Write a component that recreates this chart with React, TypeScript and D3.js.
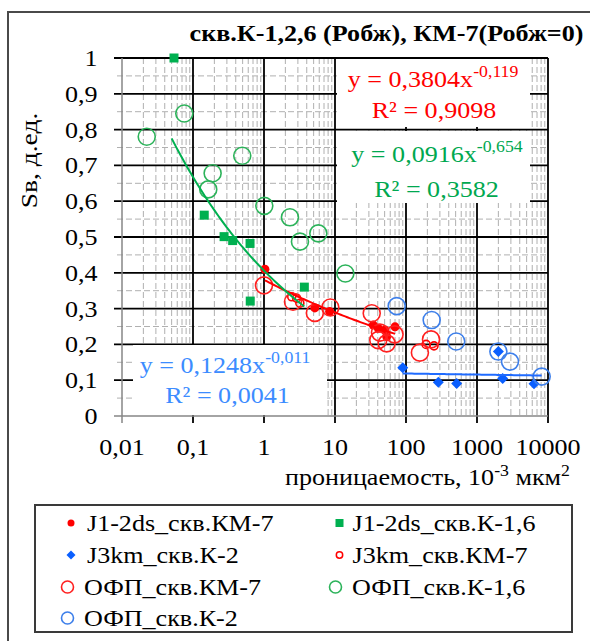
import React from 'react';
import * as d3 from 'd3';

// ---------- data ----------
const TITLE = 'скв.К-1,2,6 (Робж), КМ-7(Робж=0)';
const Y_TITLE = 'Sв, д.ед.';
const X_TITLE_MAIN = 'проницаемость, 10';
const X_TITLE_EXP = '-3';
const X_TITLE_UNIT = ' мкм';
const X_TITLE_EXP2 = '2';

const yTicks = [0, 0.1, 0.2, 0.3, 0.4, 0.5, 0.6, 0.7, 0.8, 0.9, 1];
const yTickLabels = ['0', '0,1', '0,2', '0,3', '0,4', '0,5', '0,6', '0,7', '0,8', '0,9', '1'];
const xTicks = [0.01, 0.1, 1, 10, 100, 1000, 10000];
const xTickLabels = ['0,01', '0,1', '1', '10', '100', '1000', '10000'];

// J1-2ds_скв.КМ-7 (red filled dots)
const j12dsKM7: [number, number][] = [
  [1.03, 0.41], [5.2, 0.302], [8.4, 0.292], [34.6, 0.254], [40.7, 0.245],
  [50.6, 0.24], [70, 0.249], [53.4, 0.222],
];
// J1-2ds_скв.К-1,6 (green squares)
const j12dsK16: [number, number][] = [
  [0.054, 1.0], [0.144, 0.561], [0.274, 0.501], [0.362, 0.49], [0.636, 0.482],
  [0.64, 0.321], [3.7, 0.36],
];
// J3km_скв.К-2 (blue diamonds)
const j3kmK2: [number, number][] = [
  [90, 0.135], [285, 0.094], [518, 0.091], [2000, 0.18], [2300, 0.105], [6350, 0.09],
];
// J3km_скв.КМ-7 (small red open circles)
const j3kmKM7: [number, number][] = [
  [2.46, 0.333], [2.88, 0.329], [3.2, 0.315], [192, 0.2], [248, 0.196],
];
// ОФП_скв.КМ-7 (big red open circles)
const ofpKM7: [number, number][] = [
  [1.0, 0.365], [2.56, 0.319], [5.2, 0.288], [8.6, 0.303], [32.9, 0.287],
  [43, 0.233], [40.7, 0.212], [53.4, 0.203], [69, 0.228], [157, 0.177], [225, 0.214],
];
// ОФП_скв.К-1,6 (big green open circles)
const ofpK16: [number, number][] = [
  [0.0223, 0.78], [0.0754, 0.845], [0.164, 0.633], [0.189, 0.678], [0.494, 0.727],
  [1.01, 0.587], [2.32, 0.555], [3.21, 0.487], [5.82, 0.51], [14, 0.398],
];
// ОФП_скв.К-2 (big blue open circles)
const ofpK2: [number, number][] = [
  [74, 0.307], [230, 0.268], [510, 0.208], [2000, 0.18], [2917, 0.152], [8150, 0.11],
];

// power trendlines y = a * x^b
const trendColors = ['#FF0000', '#00B050', '#1F6BFF'];
const trendA = [0.3804, 0.406, 0.1248];
const trendB = [-0.119, -0.216, -0.011];
const trendXmin = [1.03, 0.05, 90];
const trendXmax = [70, 3.7, 8150];

const eqMain = ['y = 0,3804x', 'y = 0,0916x', 'y = 0,1248x'];
const eqExp = ['-0,119', '-0,654', '-0,011'];
const eqR2 = ['R² = 0,9098', 'R² = 0,3582', 'R² = 0,0041'];
const eqColors = ['#FF0000', '#00A850', '#3C8CFF'];

const legendLabels = [
  'J1-2ds_скв.КМ-7', 'J1-2ds_скв.К-1,6',
  'J3km_скв.К-2', 'J3km_скв.КМ-7',
  'ОФП_скв.КМ-7', 'ОФП_скв.К-1,6',
  'ОФП_скв.К-2',
];

// ---------- styling ----------
const FONT = "'Liberation Serif', 'DejaVu Serif', serif";
const RED = '#FF0000';
const GREEN = '#00B050';
const BLUE = '#0A5FFF';
const RED_O = '#FF2020';
const GREEN_O = '#2CB35A';
const BLUE_O = '#3D7FEA';
const FS = 23.5;
const SX = 1.11;

const PL = 122, PR = 548, PT = 58, PB = 416;

const xScale = d3.scaleLog().domain([0.01, 10000]).range([PL, PR]);
const yScale = d3.scaleLinear().domain([0, 1]).range([PB, PT]);

type Kind = 'dot' | 'square' | 'diamond' | 'small' | 'big';

function Marker({ kind, cx, cy, color }: { kind: Kind; cx: number; cy: number; color: string }) {
  if (kind === 'dot') return <circle cx={cx} cy={cy} r={4.5} fill={color} />;
  if (kind === 'square') return <rect x={cx - 4.5} y={cy - 4.5} width={9} height={9} fill={color} />;
  if (kind === 'diamond') {
    const s = 5.5;
    return <path d={`M${cx},${cy - s}L${cx + s},${cy}L${cx},${cy + s}L${cx - s},${cy}Z`} fill={color} />;
  }
  if (kind === 'small') return <circle cx={cx} cy={cy} r={4} fill="none" stroke={color} strokeWidth={1.6} />;
  return <circle cx={cx} cy={cy} r={8.5} fill="none" stroke={color} strokeWidth={1.6} />;
}

function Txt({ x, y, anchor = 'start', size = FS, sx = SX, fill = '#000', weight, rotate, children }:
  { x: number; y: number; anchor?: string; size?: number; sx?: number; fill?: string; weight?: string; rotate?: number; children: React.ReactNode }) {
  const tr = `translate(${x},${y})${rotate ? ` rotate(${rotate})` : ''} scale(${sx},1)`;
  return (
    <text transform={tr} x={0} y={0} textAnchor={anchor as any} fontSize={size} fill={fill}
      fontWeight={weight} style={{ fontFamily: FONT }}>
      {children}
    </text>
  );
}

const seriesList: { data: [number, number][]; kind: Kind; color: string }[] = [
  { data: j12dsKM7, kind: 'dot', color: RED },
  { data: j12dsK16, kind: 'square', color: GREEN },
  { data: j3kmK2, kind: 'diamond', color: BLUE },
  { data: j3kmKM7, kind: 'small', color: RED },
  { data: ofpKM7, kind: 'big', color: RED_O },
  { data: ofpK16, kind: 'big', color: GREEN_O },
  { data: ofpK2, kind: 'big', color: BLUE_O },
];

export default function App() {
  const minorX: number[] = [];
  for (let d = 0.01; d < 10000; d *= 10) {
    for (let k = 2; k <= 9; k++) minorX.push(+(k * d).toPrecision(3));
  }
  const minorY = d3.range(0.05, 1, 0.1);

  const line = d3.line<[number, number]>().x(d => xScale(d[0])).y(d => yScale(d[1]));

  const trends = trendA.map((a, i) => {
    const n = 60;
    const lo = Math.log(trendXmin[i]);
    const hi = Math.log(trendXmax[i]);
    const pts: [number, number][] = d3.range(n + 1).map(j => {
      const x = Math.exp(lo + (hi - lo) * j / n);
      return [x, a * Math.pow(x, trendB[i])];
    });
    return line(pts) as string;
  });

  const legendRows = [523, 555, 587, 618];
  const legendKinds: { kind: Kind; color: string }[] = [
    { kind: 'dot', color: RED }, { kind: 'square', color: GREEN },
    { kind: 'diamond', color: BLUE }, { kind: 'small', color: RED },
    { kind: 'big', color: RED_O }, { kind: 'big', color: GREEN_O },
    { kind: 'big', color: BLUE_O },
  ];

  const eqBoxes = [
    { x: 337, y: 59, w: 193, h: 68, cx1: 433, b1: 86.5, cx2: 434, b2: 117.5 },
    { x: 337, y: 131, w: 193, h: 72, cx1: 437, b1: 162, cx2: 436.5, b2: 196.5 },
    { x: 133, y: 345, w: 194, h: 70, cx1: 225, b1: 373, cx2: 227.5, b2: 403 },
  ];

  return (
    <svg width={590} height={641} style={{ position: 'absolute', left: 0, top: 0, background: '#fff' }}>
      <rect x={0} y={0} width={590} height={641} fill="#fff" />
      <rect x={8} y={12} width={600} height={660} fill="none" stroke="#4a4a4a" strokeWidth={2} />

      <Txt x={386.5} y={41} anchor="middle" weight="bold" size={22.5} sx={1.16}>{TITLE}</Txt>

      {minorX.map((v, i) => (
        <line key={'mx' + i} x1={xScale(v)} x2={xScale(v)} y1={PT} y2={PB}
          stroke="#b0b0b0" strokeWidth={1} strokeDasharray="6,3" />
      ))}
      {minorY.map((v, i) => (
        <line key={'my' + i} x1={PL - 5} x2={PR} y1={yScale(v)} y2={yScale(v)}
          stroke="#b0b0b0" strokeWidth={1} strokeDasharray="6,3" />
      ))}
      {xTicks.slice(1).map((v, i) => (
        <line key={'Mx' + i} x1={xScale(v)} x2={xScale(v)} y1={PT} y2={PB + 7}
          stroke="#000" strokeWidth={1.8} />
      ))}
      {yTicks.slice(1).map((v, i) => (
        <line key={'My' + i} x1={PL - 8} x2={PR} y1={yScale(v)} y2={yScale(v)}
          stroke="#000" strokeWidth={1.8} />
      ))}
      <line x1={PL} x2={PL} y1={PT} y2={PB + 7} stroke="#868686" strokeWidth={1.5} />
      <line x1={PL - 8} x2={PR} y1={PB} y2={PB} stroke="#868686" strokeWidth={1.5} />

      {seriesList.map((s, si) => (
        <g key={'s' + si}>
          {s.data.map((d, i) => (
            <Marker key={i} kind={s.kind} cx={xScale(d[0])} cy={yScale(d[1])} color={s.color} />
          ))}
        </g>
      ))}

      {trends.map((p, i) => (
        <path key={'t' + i} d={p} fill="none" stroke={trendColors[i]} strokeWidth={2} />
      ))}

      {eqBoxes.map((b, i) => (
        <g key={'eq' + i}>
          <rect x={b.x} y={b.y} width={b.w} height={b.h} fill="#fff" />
          <Txt x={b.cx1} y={b.b1} anchor="middle" fill={eqColors[i]}>
            {eqMain[i]}
            <tspan fontSize={16} dy={-10}>{eqExp[i]}</tspan>
          </Txt>
          <Txt x={b.cx2} y={b.b2} anchor="middle" fill={eqColors[i]}>{eqR2[i]}</Txt>
        </g>
      ))}

      {yTicks.map((v, i) => (
        <Txt key={'yl' + i} x={97.5} y={yScale(v) + 8} anchor="end">{yTickLabels[i]}</Txt>
      ))}
      {xTicks.map((v, i) => (
        <Txt key={'xl' + i} x={xScale(v)} y={455} anchor="middle">{xTickLabels[i]}</Txt>
      ))}

      <Txt x={36.5} y={160.5} anchor="middle" rotate={-90} sx={1.17}>{Y_TITLE}</Txt>
      <Txt x={570} y={485} anchor="end">
        {X_TITLE_MAIN}
        <tspan fontSize={16} dy={-9}>{X_TITLE_EXP}</tspan>
        <tspan dy={9}>{X_TITLE_UNIT}</tspan>
        <tspan fontSize={16} dy={-9}>{X_TITLE_EXP2}</tspan>
      </Txt>

      <rect x={35} y={505} width={537} height={127} fill="#fff" stroke="#3a3a3a" strokeWidth={2} />
      {legendLabels.map((lab, i) => {
        const col = i % 2;
        const row = Math.floor(i / 2);
        const cy = legendRows[row];
        const k = legendKinds[i];
        const isBig = k.kind === 'big';
        const mx = col === 0 ? (isBig ? 67.5 : 71) : (isBig ? 335.5 : 339.5);
        const tx = col === 0 ? (isBig ? 84 : 87) : (isBig ? 352 : 352.6);
        return (
          <g key={'lg' + i}>
            {isBig
              ? <circle cx={mx} cy={cy} r={6} fill="none" stroke={k.color} strokeWidth={1.6} />
              : k.kind === 'dot' ? <circle cx={mx} cy={cy} r={3.5} fill={k.color} />
              : k.kind === 'small' ? <circle cx={mx} cy={cy} r={3.2} fill="none" stroke={k.color} strokeWidth={1.5} />
              : k.kind === 'square' ? <rect x={mx - 4} y={cy - 4} width={8} height={8} fill={k.color} />
              : <path d={`M${mx},${cy - 4.5}L${mx + 4.5},${cy}L${mx},${cy + 4.5}L${mx - 4.5},${cy}Z`} fill={k.color} />}
            <Txt x={tx} y={cy + 8}>{lab}</Txt>
          </g>
        );
      })}
    </svg>
  );
}
